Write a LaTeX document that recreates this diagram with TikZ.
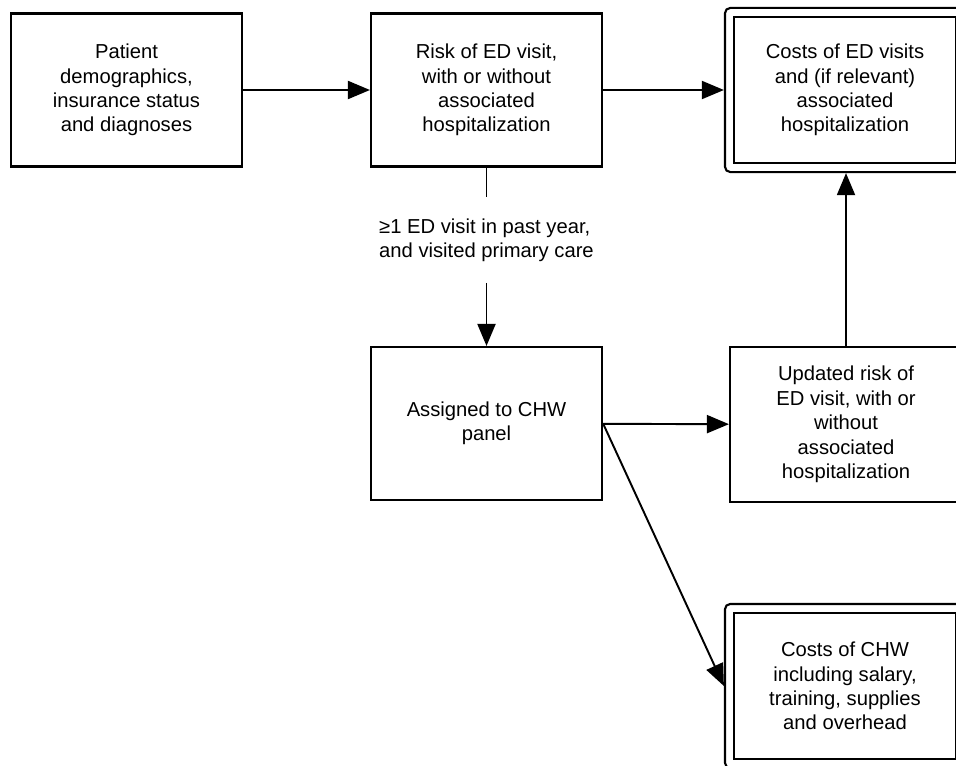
\documentclass[tikz,border=0pt]{standalone}
\usepackage{fontspec}
\setmainfont{Liberation Sans}
\usetikzlibrary{arrows.meta,fit}
\tikzset{
  box/.style={draw,line width=1.2pt,align=center,minimum width=4.62cm,minimum height=3.06cm,inner sep=2pt,font=\fontsize{11.5}{13.9}\selectfont},
  costbox/.style={box,minimum width=4.44cm,minimum height=2.92cm},
  outerbox/.style={draw,line width=1.2pt,rounded corners=3pt,inner sep=0.16cm},
  arr/.style={line width=1.1pt,-{Triangle[length=0.44cm,width=0.36cm]}},
  lin/.style={line width=1.1pt}
}
\begin{document}
\begin{tikzpicture}
  \useasboundingbox (0,0) rectangle (19.12,-15.3);
  \clip (0,0) rectangle (19.12,-15.3);
  %boxes
  \node[box] (patient) at (2.53,-1.8) {Patient\\demographics,\\insurance status\\and diagnoses};
  \node[box] (risk) at (9.73,-1.8) {Risk of ED visit,\\with or without\\associated\\hospitalization};
  \node[costbox] (edcost) at (16.9,-1.8) {Costs of ED visits\\and (if relevant)\\associated\\hospitalization};
  \node[outerbox,fit=(edcost)] (edcostout) {};
  \node[font=\fontsize{11.5}{13.9}\selectfont,align=left,inner ysep=0.42cm] (crit) at (9.73,-4.8) {≥1 ED visit in past year,\\and visited primary care};
  \node[box] (chw) at (9.73,-8.47) {Assigned to CHW\\panel};
  \node[box,minimum width=4.64cm,minimum height=3.1cm] (update) at (16.92,-8.49) {Updated risk of\\ED visit, with or\\without\\associated\\hospitalization};
  \node[costbox] (chwcost) at (16.9,-13.72) {Costs of CHW\\including salary,\\training, supplies\\and overhead};
  \node[outerbox,fit=(chwcost)] (chwcostout) {};
  %frecce
  \draw[arr] (patient) -- (risk);
  \draw[arr] (risk) -- (edcostout);
  \draw[lin] (risk) -- (crit);
  \draw[arr] (crit) -- (chw);
  \draw[arr] (chw) -- (update);
  \draw[arr] (update) -- (edcostout.south -| update.north);
  \draw[arr] (chw.east) -- (chwcostout.west);
\end{tikzpicture}
\end{document}
